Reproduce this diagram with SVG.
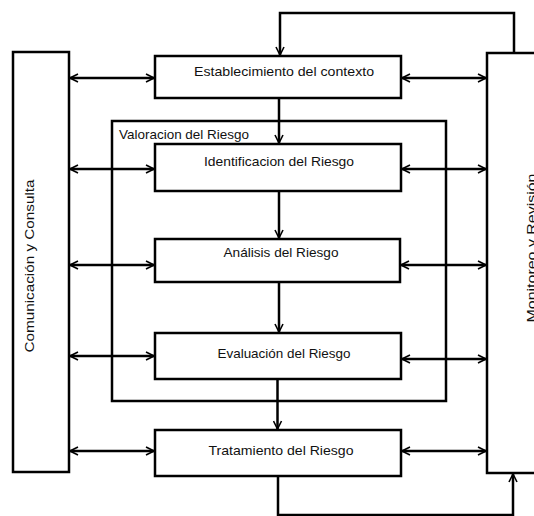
<svg xmlns="http://www.w3.org/2000/svg" width="534" height="516" viewBox="0 0 534 516">
<style>
.box{fill:#fff;stroke:#000;stroke-width:2.5}
.frame{fill:none;stroke:#000;stroke-width:2.5}
.ln{fill:none;stroke:#000;stroke-width:2.5}
.t{font-family:"Liberation Sans",Arial,sans-serif;font-size:13px;fill:#111}
</style>
<defs>
<marker id="ah" viewBox="0 0 10 10" refX="9" refY="5" markerWidth="4" markerHeight="4" orient="auto-start-reverse" markerUnits="strokeWidth">
<path d="M1,1 L9,5 L1,9" fill="none" stroke="#000" stroke-width="1.6"/>
</marker>
</defs>
<rect width="534" height="516" fill="#fff"/>
<g id="valoracion">
<rect class="frame" x="112" y="121" width="334" height="280"/>
<text class="t" x="119" y="139" textLength="130" lengthAdjust="spacingAndGlyphs">Valoracion del Riesgo</text>
</g>
<g id="connectors">
<line class="ln" x1="70" y1="78" x2="154" y2="78" marker-start="url(#ah)" marker-end="url(#ah)"/>
<line class="ln" x1="402" y1="78" x2="486" y2="78" marker-start="url(#ah)" marker-end="url(#ah)"/>
<line class="ln" x1="70" y1="169" x2="154" y2="169" marker-start="url(#ah)" marker-end="url(#ah)"/>
<line class="ln" x1="402" y1="169" x2="486" y2="169" marker-start="url(#ah)" marker-end="url(#ah)"/>
<line class="ln" x1="70" y1="265" x2="154" y2="265" marker-start="url(#ah)" marker-end="url(#ah)"/>
<line class="ln" x1="401" y1="265" x2="486" y2="265" marker-start="url(#ah)" marker-end="url(#ah)"/>
<line class="ln" x1="70" y1="356" x2="154" y2="356" marker-start="url(#ah)" marker-end="url(#ah)"/>
<line class="ln" x1="402" y1="359" x2="486" y2="359" marker-start="url(#ah)" marker-end="url(#ah)"/>
<line class="ln" x1="70" y1="451" x2="154" y2="451" marker-start="url(#ah)" marker-end="url(#ah)"/>
<line class="ln" x1="402" y1="451" x2="486" y2="451" marker-start="url(#ah)" marker-end="url(#ah)"/>
<line class="ln" x1="279" y1="98" x2="279" y2="143" marker-end="url(#ah)"/>
<line class="ln" x1="279" y1="191" x2="279" y2="238" marker-end="url(#ah)"/>
<line class="ln" x1="279" y1="282" x2="279" y2="332" marker-end="url(#ah)"/>
<line class="ln" x1="277.5" y1="379" x2="277.5" y2="429" marker-end="url(#ah)"/>
<polyline class="ln" points="514,53 514,13 280,13 280,55" marker-end="url(#ah)"/>
<polyline class="ln" points="278,476 278,515 513,515 513,474" marker-end="url(#ah)"/>
</g>
<g id="comunicacion">
<rect class="box" x="13" y="52" width="56" height="420"/>
<text class="t" transform="translate(34,266) rotate(-90)" text-anchor="middle" textLength="173" lengthAdjust="spacingAndGlyphs">Comunicación y Consulta</text>
</g>
<g id="monitoreo">
<rect class="box" x="487" y="53" width="60" height="420"/>
<text class="t" transform="translate(536,248) rotate(-90)" text-anchor="middle" textLength="149" lengthAdjust="spacingAndGlyphs">Monitoreo y Revisión</text>
</g>
<g id="establecimiento">
<rect class="box" x="155" y="56" width="246" height="42"/>
<text class="t" x="284" y="76" text-anchor="middle" textLength="180" lengthAdjust="spacingAndGlyphs">Establecimiento del contexto</text>
</g>
<g id="identificacion">
<rect class="box" x="155" y="144" width="246" height="47"/>
<text class="t" x="279" y="166" text-anchor="middle" textLength="150" lengthAdjust="spacingAndGlyphs">Identificacion del Riesgo</text>
</g>
<g id="analisis">
<rect class="box" x="155" y="239" width="245" height="43"/>
<text class="t" x="281" y="257" text-anchor="middle" textLength="115" lengthAdjust="spacingAndGlyphs">Análisis del Riesgo</text>
</g>
<g id="evaluacion">
<rect class="box" x="155" y="333" width="246" height="46"/>
<text class="t" x="284" y="358" text-anchor="middle" textLength="133" lengthAdjust="spacingAndGlyphs">Evaluación del Riesgo</text>
</g>
<g id="tratamiento">
<rect class="box" x="155" y="430" width="246" height="46"/>
<text class="t" x="281" y="455" text-anchor="middle" textLength="145" lengthAdjust="spacingAndGlyphs">Tratamiento del Riesgo</text>
</g>
</svg>
